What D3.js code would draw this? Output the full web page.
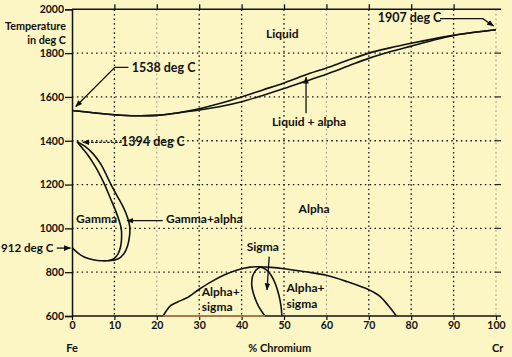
<!DOCTYPE html>
<html><head><meta charset="utf-8">
<script src="https://cdn.jsdelivr.net/npm/d3@7"></script>
<style>
html,body{margin:0;padding:0;background:#fcf5c4;}
svg{display:block;}
text{font-family:Lato,"Open Sans",sans-serif;font-weight:bold;fill:#111;}
</style></head><body>
<svg id="c" width="512" height="357"></svg>
<script>
// ---- data ----
const xTicks = [0,10,20,30,40,50,60,70,80,90,100];
const yTicks = [600,800,1000,1200,1400,1600,1800,2000];
const liquidus = [[0,1538],[5,1528],[10,1519],[15,1514],[20,1516],[25,1528],[30,1546],[35,1571],[40,1600],[45,1632],[50,1664],[55,1700],[60,1732],[65,1767],[70,1800],[75,1824],[80,1845],[85,1864],[90,1881],[95,1895],[100,1907]];
const solidus = [[0,1538],[5,1528],[10,1519],[15,1514],[20,1516],[25,1527],[30,1540],[35,1556],[40,1578],[45,1607],[50,1638],[55,1671],[60,1704],[65,1740],[70,1776],[75,1806],[80,1832],[85,1858],[90,1881],[95,1895],[100,1907]];
const gammaBottom = [[0,912],[1.5,886],[3,868],[5,857],[7,852],[8.5,852]];
const gammaInner = [[8.5,852],[9.9,862],[10.9,885],[11.5,920],[11.7,960],[11.6,1000],[11.2,1030],[10.3,1080],[9,1140],[7.7,1200],[6.7,1240],[5.4,1285],[3.9,1330],[2.5,1365],[1.2,1396]];
const gammaOuter = [[8.5,852],[10.8,860],[12.2,883],[13.1,920],[13.6,970],[13.6,1010],[13.1,1050],[12,1100],[10.6,1150],[9.2,1200],[8.2,1240],[6.9,1290],[5,1340],[3,1375],[1.2,1396]];
const sigmaDome = [[21.5,600],[22.3,625],[23.3,648],[25,665],[27,682],[30,722],[33,758],[36,788],[39,810],[42,823],[44,825],[47,822],[50,816],[55,802],[60,786],[65,756],[70,720],[72.5,692],[74.5,650],[76.5,600]];
const sigmaLensLeft = [[45.5,600],[44.1,640],[43,690],[42.4,740],[42.6,782],[43.4,810],[44.4,824]];
const sigmaLensRight = [[44.4,824],[45.8,812],[47,785],[48,745],[48.8,695],[49.3,645],[49.5,600]];
const sigmaBase = [[21.5,600],[45.5,600]];
const labels = [
  {t:"Liquid", x:49.6, y:1887, a:"middle", s:12},
  {t:"Liquid + alpha", x:55.9, y:1486, a:"middle", s:12},
  {t:"Alpha", x:57.1, y:1088, a:"middle", s:12},
  {t:"Gamma", x:5.8, y:1044, a:"middle", s:12},
  {t:"Gamma+alpha", x:31.2, y:1043, a:"middle", s:12},
  {t:"912 deg C", x:-4.4, y:912, a:"end", s:11.6},
  {t:"1538 deg C", x:21.6, y:1735, a:"middle", s:12.5},
  {t:"1394 deg C", x:19.1, y:1396, a:"middle", s:12.5},
  {t:"1907 deg C", x:79.6, y:1964, a:"middle", s:12.5},
  {t:"Sigma", x:45, y:916, a:"middle", s:12},
  {t:"Alpha+", x:30.6, y:711, a:"start", s:12},
  {t:"sigma", x:30.6, y:640, a:"start", s:12},
  {t:"Alpha+", x:50.6, y:727, a:"start", s:12},
  {t:"sigma", x:50.6, y:657, a:"start", s:12}
];
const arrows = [
  {p:[[13.3,1735],[10.1,1735],[0.9,1556]], dash:false},
  {p:[[11.7,1393],[2.6,1393]], dash:true},
  {p:[[86.8,1957],[96.9,1957],[99.4,1924]], dash:false},
  {p:[[55.2,1525],[55.2,1690]], dash:false},
  {p:[[21.4,1035],[13.0,1035]], dash:false},
  {p:[[-3.6,910],[-0.4,910]], dash:false},
  {p:[[46.5,871],[46.0,720]], dash:false}
];
const axisTitle = ["Temperature","in deg C"];
const bottomLabels = [{t:"Fe",x:0},{t:"% Chromium",x:49},{t:"Cr",x:100.4}];

// ---- scales ----
const W=512,H=357, pL=72, pR=496, pT=9.3, pB=316;
const x = d3.scaleLinear().domain([0,100]).range([pL,pR]);
const y = d3.scaleLinear().domain([600,2000]).range([pB,pT]);
const svg = d3.select("#c");
svg.append("rect").attr("width",W).attr("height",H).attr("fill","#fcf5c4");

const defs = svg.append("defs");
defs.append("marker").attr("id","ah").attr("viewBox","0 0 10 10").attr("refX",9).attr("refY",5)
  .attr("markerWidth",7).attr("markerHeight",7).attr("orient","auto-start-reverse").attr("markerUnits","userSpaceOnUse")
  .append("path").attr("d","M0,1 L10,5 L0,9 Z").attr("fill","#111");

// grid
const grid = svg.append("g");
grid.selectAll(".vg").data(xTicks.slice(1)).join("line")
  .attr("x1",d=>x(d)).attr("x2",d=>x(d)).attr("y1",y(2000)).attr("y2",y(600))
  .attr("stroke",d=>(d===20||d===60||d===100)?"#8a8670":"#222").attr("stroke-width",d=>(d===20||d===60||d===100)?0.9:1.3)
  .attr("stroke-dasharray","1.6,3");
grid.selectAll(".hg").data(yTicks.slice(1,-1)).join("line")
  .attr("x1",x(0)).attr("x2",x(100)).attr("y1",d=>y(d)).attr("y2",d=>y(d))
  .attr("stroke","#222").attr("stroke-width",1.3).attr("stroke-dasharray","1.6,3.2");
grid.selectAll(".rs").data(yTicks.slice(1,-1)).join("line")
  .attr("x1",x(100)).attr("x2",x(100)+5).attr("y1",d=>y(d)).attr("y2",d=>y(d))
  .attr("stroke","#222").attr("stroke-width",1.2);

// axes
const yAxis = d3.axisLeft(y).tickValues(yTicks).tickSize(7).tickPadding(1).tickFormat(d3.format("d"));
const gy = svg.append("g").attr("transform",`translate(${pL},0)`).call(yAxis);
gy.select(".domain").attr("stroke","#111").attr("stroke-width",1.5);
gy.selectAll(".tick line").attr("stroke","#111").attr("stroke-width",1.3);
gy.selectAll(".tick text").attr("font-size",10.5).attr("font-family","Lato,sans-serif").attr("font-weight","bold").attr("fill","#111");

const xAxis = d3.axisBottom(x).tickValues(xTicks).tickSize(4).tickPadding(2).tickFormat(d3.format("d"));
const gx = svg.append("g").attr("transform",`translate(0,${pB})`).call(xAxis);
gx.select(".domain").remove();
gx.selectAll(".tick line").attr("stroke","#111").attr("stroke-width",1.2);
gx.selectAll(".tick text").attr("font-size",10.5).attr("font-family","Lato,sans-serif").attr("font-weight","bold").attr("fill","#111");
svg.append("line").attr("x1",pL).attr("x2",pR+5).attr("y1",pB).attr("y2",pB).attr("stroke","#111").attr("stroke-width",1.5);

const xTop = d3.axisTop(x).tickValues(xTicks.slice(1,-1)).tickSize(5).tickFormat("");
const gt = svg.append("g").attr("transform",`translate(0,${pT})`).call(xTop);
gt.select(".domain").remove();
gt.selectAll(".tick line").attr("stroke","#111").attr("stroke-width",1.3);
svg.append("line").attr("x1",pL).attr("x2",pR+5).attr("y1",pT).attr("y2",pT).attr("stroke","#111").attr("stroke-width",1.5);

// curves
const line = d3.line().x(d=>x(d[0])).y(d=>y(d[1])).curve(d3.curveCatmullRom.alpha(0.5));
const curves = svg.append("g").attr("fill","none").attr("stroke","#111").attr("stroke-width",1.6).attr("stroke-linejoin","round");
[liquidus, solidus, gammaBottom, gammaInner, gammaOuter, sigmaDome, sigmaLensLeft, sigmaLensRight].forEach(c=>{
  curves.append("path").attr("d",line(c));
});
svg.append("path").attr("d",d3.line().x(d=>x(d[0])).y(d=>y(d[1]))(sigmaBase)).attr("stroke","#c98a55").attr("stroke-width",1.5).attr("fill","none");

// arrows
const sline = d3.line().x(d=>x(d[0])).y(d=>y(d[1]));
arrows.forEach(a=>{
  svg.append("path").attr("d",sline(a.p)).attr("fill","none").attr("stroke","#111").attr("stroke-width",1.3)
   .attr("stroke-dasharray",a.dash?"2.5,1.5":null).attr("marker-end","url(#ah)");
});

// labels
svg.selectAll(".lab").data(labels).join("text")
  .attr("x",d=>x(d.x)).attr("y",d=>y(d.y)).attr("dy","0.35em").attr("text-anchor",d=>d.a)
  .attr("font-size",d=>d.s).text(d=>d.t);

svg.selectAll(".at").data(axisTitle).join("text")
  .attr("x",66).attr("y",(d,i)=>26.5+i*13.5).attr("dy","0.35em").attr("text-anchor","end")
  .attr("font-size",10.8).text(d=>d);

svg.selectAll(".bl").data(bottomLabels).join("text")
  .attr("x",d=>x(d.x)).attr("y",pB+31.7).attr("dy","0.35em").attr("text-anchor","middle")
  .attr("font-size",11).text(d=>d.t);
</script>
</body></html>
